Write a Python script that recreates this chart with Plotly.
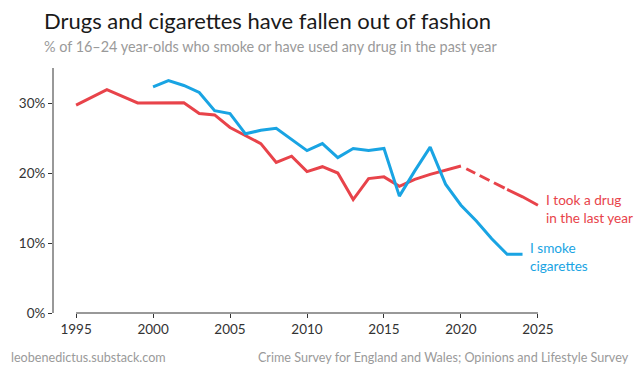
import plotly.graph_objects as go

# ---- data ----
drug_years = [1995, 1997, 1999, 2000, 2001, 2002, 2003, 2004, 2005, 2006, 2007, 2008, 2009,
              2010, 2011, 2012, 2013, 2014, 2015, 2016, 2017, 2018, 2019, 2020]
drug_values = [29.7, 31.9, 30.0, 30.0, 30.0, 30.05, 28.5, 28.3, 26.5, 25.3, 24.2, 21.5, 22.4,
               20.2, 20.9, 20.0, 16.2, 19.2, 19.45, 18.1, 19.1, 19.8, 20.4, 21.0]
drug_gap_years = [2020, 2023]
drug_gap_values = [21.0, 17.65]
drug_recent_years = [2023, 2024, 2025]
drug_recent_values = [17.65, 16.6, 15.4]

smoke_years = [2000, 2001, 2002, 2003, 2004, 2005, 2006, 2007, 2008, 2009, 2010, 2011, 2012,
               2013, 2014, 2015, 2016, 2017, 2018, 2019, 2020, 2021, 2022, 2023, 2024]
smoke_values = [32.3, 33.2, 32.5, 31.5, 28.9, 28.5, 25.6, 26.1, 26.4, 24.8, 23.2, 24.2, 22.2,
                23.5, 23.2, 23.5, 16.7, 20.3, 23.7, 18.4, 15.4, 13.15, 10.6, 8.4, 8.4]

x_ticks = [1995, 2000, 2005, 2010, 2015, 2020, 2025]
y_ticks = [0, 10, 20, 30]
y_tick_labels = ["0%", "10%", "20%", "30%"]

RED = "#e8434a"
BLUE = "#19a4e3"
AXIS = "#333333"
GREY = "#9a9a9a"
FONT = "Lato"

W, H = 640, 380
L, R, T, B = 53, 99, 68, 67
PW, PH = W - L - R, H - T - B


def px_x(px):
    return (px - L) / PW


def px_y(py):
    return (H - B - py) / PH


fig = go.Figure()
fig.add_trace(go.Scatter(x=drug_years, y=drug_values, mode="lines",
                         line=dict(color=RED, width=3), hoverinfo="skip"))
fig.add_trace(go.Scatter(x=drug_gap_years, y=drug_gap_values, mode="lines",
                         line=dict(color=RED, width=3, dash="0px,6px,10px,5px,11px,5px,12px,8px"),
                         hoverinfo="skip"))
fig.add_trace(go.Scatter(x=drug_recent_years, y=drug_recent_values, mode="lines",
                         line=dict(color=RED, width=3), hoverinfo="skip"))
fig.add_trace(go.Scatter(x=smoke_years, y=smoke_values, mode="lines",
                         line=dict(color=BLUE, width=3), hoverinfo="skip"))

# detached axis lines
fig.add_shape(type="line", xref="x", yref="paper", x0=x_ticks[0], x1=x_ticks[-1], y0=0, y1=0,
              line=dict(color=AXIS, width=1))
fig.add_shape(type="line", xref="paper", yref="y", x0=0, x1=0, y0=0, y1=35,
              line=dict(color=AXIS, width=1))

annotations = [
    dict(text="Drugs and cigarettes have fallen out of fashion", xref="paper", yref="paper",
         x=px_x(42), y=px_y(20), xanchor="left", yanchor="middle", showarrow=False,
         font=dict(family=FONT, size=22, color="#1a1a1a")),
    dict(text="% of 16–24 year-olds who smoke or have used any drug in the past year",
         xref="paper", yref="paper", x=px_x(42), y=px_y(46), xanchor="left", yanchor="middle",
         showarrow=False, font=dict(family=FONT, size=14.4, color=GREY)),
    dict(text="leobenedictus.substack.com", xref="paper", yref="paper", x=px_x(9), y=px_y(357),
         xanchor="left", yanchor="middle", showarrow=False,
         font=dict(family=FONT, size=12.6, color=GREY)),
    dict(text="Crime Survey for England and Wales; Opinions and Lifestyle Survey", xref="paper",
         yref="paper", x=px_x(631), y=px_y(357), xanchor="right", yanchor="middle",
         showarrow=False, font=dict(family=FONT, size=12.6, color=GREY)),
    dict(text="I took a drug<br>in the last year", xref="paper", yref="paper", x=px_x(544),
         y=px_y(209), xanchor="left", yanchor="middle", align="left", showarrow=False,
         font=dict(family=FONT, size=13.6, color=RED)),
    dict(text="I smoke<br>cigarettes", xref="paper", yref="paper", x=px_x(528), y=px_y(256.5),
         xanchor="left", yanchor="middle", align="left", showarrow=False,
         font=dict(family=FONT, size=13.6, color=BLUE)),
]

fig.update_layout(
    width=W, height=H,
    margin=dict(l=L, r=R, t=T, b=B, autoexpand=False),
    paper_bgcolor="white", plot_bgcolor="white",
    showlegend=False,
    annotations=annotations,
    xaxis=dict(range=[1993.5, 2025.2], tickvals=x_ticks, showgrid=False, zeroline=False,
               showline=False, ticks="outside", ticklen=4, tickcolor=AXIS, tickwidth=1,
               tickfont=dict(family=FONT, size=13.5, color=AXIS)),
    yaxis=dict(range=[0, 35], tickvals=y_ticks, ticktext=y_tick_labels, showgrid=False,
               zeroline=False, showline=False, ticks="outside", ticklen=4, tickcolor=AXIS,
               tickwidth=1, tickfont=dict(family=FONT, size=13.5, color=AXIS)),
)

fig.write_html("out.html", config={"displayModeBar": False},
               post_script="document.body.style.margin='0px';")
